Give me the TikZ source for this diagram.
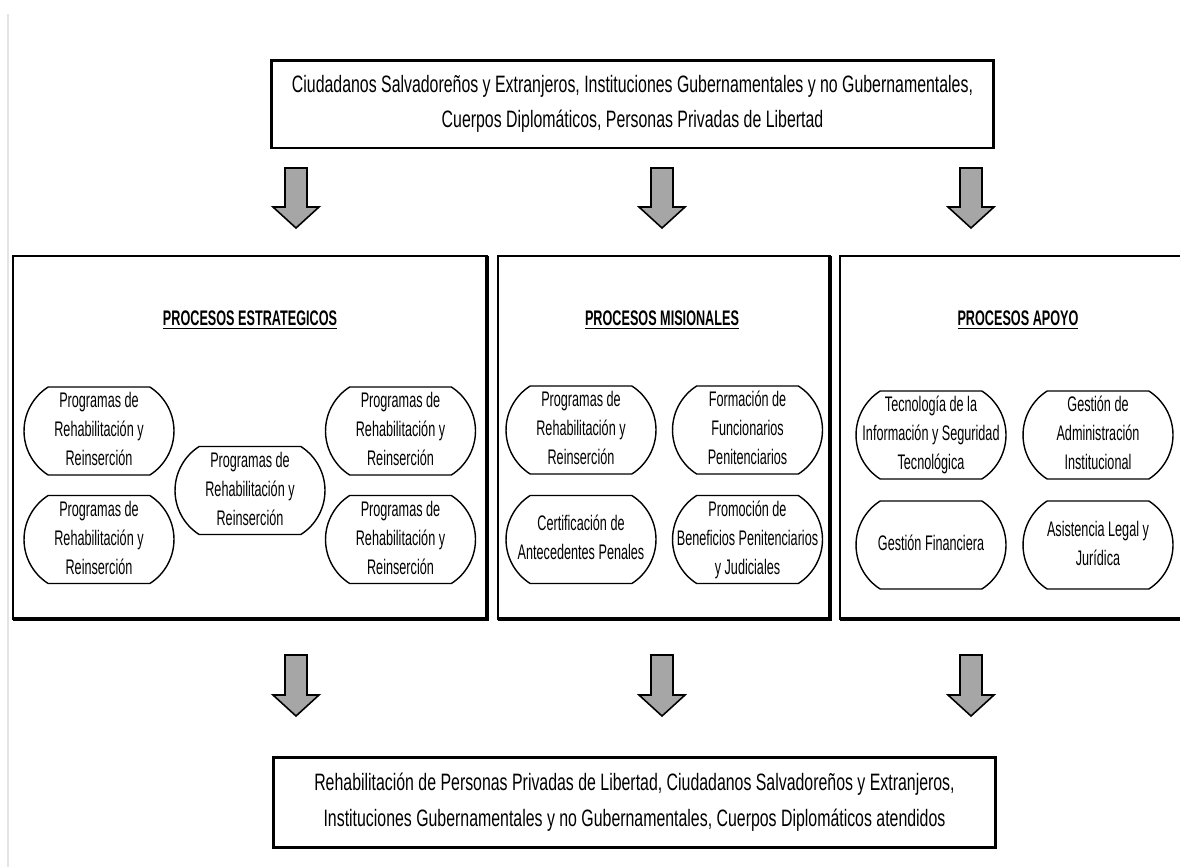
\documentclass[tikz,border=0pt]{standalone}
\usepackage{fontspec}
\setmainfont{Liberation Sans}[FakeStretch=0.72]
\newfontfamily\narrowA{Liberation Sans}[FakeStretch=0.6]
\newfontfamily\narrowB{Liberation Sans}[FakeStretch=0.67]
\usetikzlibrary{shapes.misc}
\definecolor{arrowgray}{HTML}{A6A6A6}
\definecolor{edgegray}{HTML}{E4E4E4}
\newcommand\blockdown[4]{%
  \draw[blockarrow] (#1-11,#2) -- (#1+11,#2) -- (#1+11,#3-21) -- (#1+23,#3-21)
    -- (#1,#3) coordinate (#4) -- (#1-23,#3-21) -- (#1-11,#3-21) -- cycle;}
\newcommand\ovtext[1]{\makebox[1.9cm]{\begin{tabular}{@{}c@{}}#1\end{tabular}}}
\begin{document}
\begin{tikzpicture}[x=0.02cm,y=-0.02cm,
  oval/.style={draw, line width=0.8pt, rounded rectangle, rounded rectangle arc length=115,
    minimum width=3cm, minimum height=1.76cm, inner sep=0pt,
    font=\narrowA\fontsize{12}{16.4}\selectfont},
  panel/.style={draw, line width=1.1pt},
  heavy/.style={line width=2.4pt},
  bigbox/.style={draw, line width=1.7pt, align=center, inner sep=0pt,
    font=\narrowB\fontsize{13.5}{20}\selectfont},
  title/.style={font=\narrowA\bfseries\fontsize{12}{14}\selectfont},
  blockarrow/.style={draw=black, fill=arrowgray, line width=0.9pt, line join=miter}]
\clip (0,0) rectangle (1180,867);
\fill[white] (0,0) rectangle (1180,867);
\draw[edgegray, line width=0.6pt] (8,14) -- (8,867);

% top and bottom boxes
\node[bigbox, minimum width=14.46cm, minimum height=1.76cm] (top) at (632.5,104)
  {Ciudadanos Salvadoreños y Extranjeros, Instituciones Gubernamentales y no Gubernamentales,\\
   Cuerpos Diplomáticos, Personas Privadas de Libertad};
\node[bigbox, minimum width=14.46cm, minimum height=1.8cm,
  font=\narrowB\fontsize{13.5}{20.8}\selectfont] (bottom) at (634.5,802)
  {Rehabilitación de Personas Privadas de Libertad, Ciudadanos Salvadoreños y Extranjeros,\\
   Instituciones Gubernamentales y no Gubernamentales, Cuerpos Diplomáticos atendidos};

% arrows
\blockdown{296}{168}{228}{a1}
\blockdown{662}{168}{228}{a2}
\blockdown{971}{168}{228}{a3}
\blockdown{296}{655}{716}{b1}
\blockdown{662}{655}{716}{b2}
\blockdown{971}{655}{716}{b3}

% panels
\draw[panel] (13,256) rectangle (487,619);
\draw[heavy] (487,256) -- (487,619) -- (13,619);
\draw[panel] (498,256) rectangle (830,619);
\draw[heavy] (830,256) -- (830,619) -- (498,619);
\draw[panel] (840,256) rectangle (1195,619);
\draw[heavy] (1195,619) -- (840,619);

% titles
\node[title] (t1) at (250,320) {\underline{PROCESOS ESTRATEGICOS}};
\node[title] (t2) at (662,320) {\underline{PROCESOS MISIONALES}};
\node[title] (t3) at (1018,320) {\underline{PROCESOS APOYO}};

% estrategicos
\node[oval] (e1) at (99,431) {\ovtext{Programas de\\Rehabilitación y\\Reinserción}};
\node[oval] (e2) at (99,539.5) {\ovtext{Programas de\\Rehabilitación y\\Reinserción}};
\node[oval] (e3) at (250,490.5) {\ovtext{Programas de\\Rehabilitación y\\Reinserción}};
\node[oval] (e4) at (400.5,431) {\ovtext{Programas de\\Rehabilitación y\\Reinserción}};
\node[oval] (e5) at (400.5,539.5) {\ovtext{Programas de\\Rehabilitación y\\Reinserción}};

% misionales
\node[oval] (m1) at (581,430) {\ovtext{Programas de\\Rehabilitación y\\Reinserción}};
\node[oval] (m2) at (747.5,430) {\ovtext{Formación de\\Funcionarios\\Penitenciarios}};
\node[oval] (m3) at (581,539.5) {\ovtext{Certificación de\\Antecedentes Penales}};
\node[oval] (m4) at (747.5,539.5) {\ovtext{Promoción de\\Beneficios Penitenciarios\\y Judiciales}};

% apoyo
\node[oval] (p1) at (931,435) {\ovtext{Tecnología de la\\Información y Seguridad\\Tecnológica}};
\node[oval] (p2) at (1098,435) {\ovtext{Gestión de\\Administración\\Institucional}};
\node[oval] (p3) at (931,545) {\ovtext{Gestión Financiera}};
\node[oval] (p4) at (1098,545) {\ovtext{Asistencia Legal y\\Jurídica}};
\end{tikzpicture}
\end{document}
